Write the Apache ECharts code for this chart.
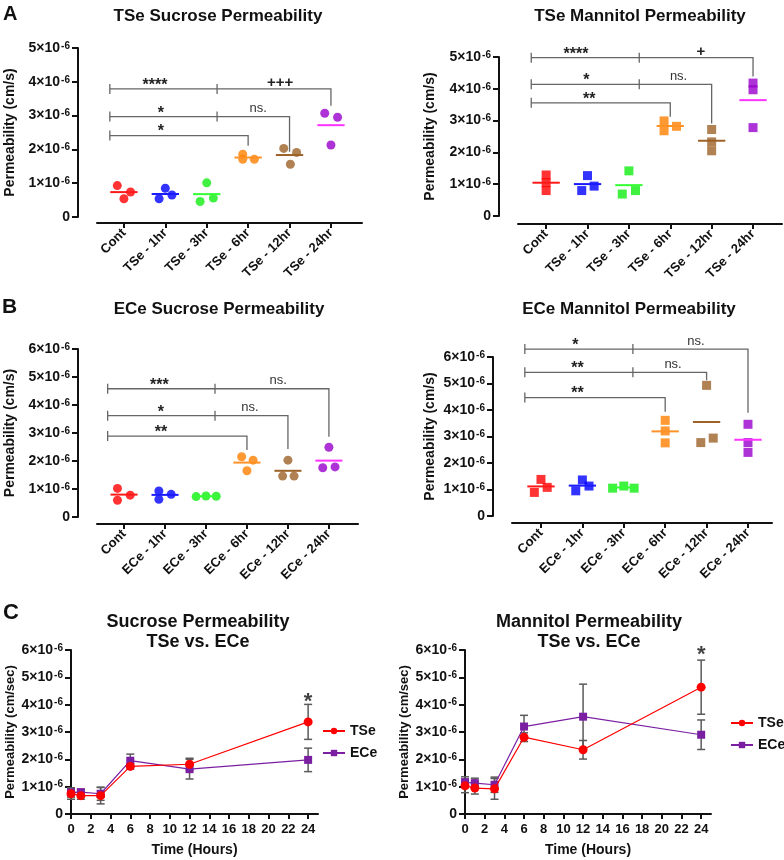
<!DOCTYPE html>
<html>
<head>
<meta charset="utf-8">
<title>Permeability</title>
<script src="https://cdn.jsdelivr.net/npm/echarts@6/dist/echarts.min.js"></script>
<style>
html,body{margin:0;padding:0;background:#fff;}
#main{width:784px;height:860px;}
</style>
</head>
<body>
<div id="main"></div>
<script>
// x axis groups
var tseNames = ['Cont','TSe - 1hr','TSe - 3hr','TSe - 6hr','TSe - 12hr','TSe - 24hr'];
var eceNames = ['Cont','ECe - 1hr','ECe - 3hr','ECe - 6hr','ECe - 12hr','ECe - 24hr'];
var groupIdx = [0,1,2,3,4,5];

// permeability in 1e-6 cm/s, 3 wells per group
var tseSucrose  = [[0.93,0.74,0.54],[0.85,0.54,0.65],[1.01,0.46,0.56],[1.86,1.71,1.71],[2.03,1.91,1.56],[3.07,2.95,2.13]];
var tseMannitol = [[1.29,1.05,0.80],[1.27,0.80,0.94],[1.42,0.69,0.80],[2.99,2.68,2.82],[2.72,2.33,2.05],[4.18,3.97,2.78]];
var eceSucrose  = [[1.02,0.78,0.60],[0.93,0.63,0.81],[0.73,0.75,0.74],[2.15,2.03,1.65],[2.03,1.46,1.46],[2.49,1.76,1.79]];
var eceMannitol = [[1.38,1.08,0.89],[1.36,1.13,0.95],[1.05,1.13,1.05],[3.61,3.21,2.76],[4.93,2.77,2.94],[3.46,2.77,2.40]];

// horizontal scatter of the dots inside a group
var tseSucroseJit  = [[-0.16,0.16,0],[0,-0.15,0.16],[0,-0.16,0.16],[-0.13,-0.13,0.15],[-0.14,0.17,0.02],[-0.15,0.16,0]];
var tseMannitolJit = [[0,0,0],[0,-0.14,0.16],[0,-0.16,0.16],[-0.15,-0.15,0.15],[0,0,0],[0,0,0]];
var eceSucroseJit  = [[-0.16,0.15,-0.16],[-0.15,-0.15,0.15],[-0.24,0,0.25],[-0.13,0.15,0],[0,-0.13,0.15],[0,-0.15,0.15]];
var eceMannitolJit = [[0,0.15,-0.16],[0,0.16,-0.16],[-0.27,0,0.25],[0,0,0],[0,-0.14,0.16],[0,0,0]];

// significance brackets: [x start, y, x middle cap, x end, y end of drop, x text1, x text2]
var tseSucroseBr  = [[-0.34,3.79,2.25,5,3.29,0.75,3.77],[-0.34,2.97,2.25,4,1.93,0.89,3.24],[-0.34,2.41,null,3,2.11,0.89,0]];
var tseSucroseTx  = [['****','+++'],['*','ns.'],['*','']];
var tseMannitolBr = [[-0.36,4.98,2.25,5,4.39,0.72,3.74],[-0.36,4.14,2.25,4,2.91,0.97,3.2],[-0.36,3.56,null,3,3.12,1.04,0]];
var tseMannitolTx = [['****','+'],['*','ns.'],['**','']];
var eceSucroseBr  = [[-0.4,4.58,2.22,5,2.87,0.86,3.76],[-0.4,3.62,2.22,4,2.43,0.9,3.07],[-0.4,2.89,null,3,2.39,0.9,0]];
var eceSucroseTx  = [['***','ns.'],['*','ns.'],['**','']];
var eceMannitolBr = [[-0.39,6.30,2.22,5,3.90,0.83,3.74],[-0.39,5.42,2.22,4,5.12,0.88,3.19],[-0.39,4.47,null,3,3.93,0.88,0]];
var eceMannitolTx = [['*','ns.'],['**','ns.'],['**','']];

// time course, mean and error (1e-6 cm/sec)
var hours = [0,1,3,6,12,24];
var hourTicks = [0,2,4,6,8,10,12,14,16,18,20,22,24];
var sucTSe = [0.74,0.67,0.67,1.74,1.82,3.37];
var sucTSeErr = [0.20,0.13,0.30,0.10,0.22,0.64];
var sucECe = [0.79,0.80,0.74,1.95,1.64,1.98];
var sucECeErr = [0.17,0.10,0.24,0.24,0.36,0.43];
var manTSe = [1.03,0.95,0.92,2.81,2.35,4.64];
var manTSeErr = [0.25,0.22,0.38,0.16,0.34,0.99];
var manECe = [1.16,1.13,1.07,3.20,3.56,2.90];
var manECeErr = [0.20,0.18,0.28,0.41,1.19,0.54];
var sucStar = [24,4.1];
var manStar = [24,5.82];

var dotColors  = ['#ff0000','#0000ff','#11ee11','#ff8000','#9c6228','#9900cc'];
var meanColors = ['#ff1a1a','#1a1aff','#33ff33','#ff9226','#9c6228','#ff33ff'];
var ink = '#111';

var grids = [
	{left:97, top:48, width:265, height:169},
	{left:518, top:57, width:264, height:159},
	{left:97, top:349, width:261, height:168},
	{left:512, top:357, width:260, height:159},
	{left:71, top:650, width:247, height:164},
	{left:465, top:650, width:246, height:164}
];

var supRich = {
	b:{fontSize:14, fontWeight:'bold', color:ink},
	s:{fontSize:10, fontWeight:'bold', color:ink, verticalAlign:'top', padding:[0,0,0,1]}
};
function sciLabel(v){
	if(v===0) return '{b|0}';
	return '{b|'+v+'×10}{s|-6}';
}

function yAx(gi, max, name, gap, off, nameSize){
	return {
		type:'value', gridIndex:gi, min:0, max:max, interval:1, offset:off,
		name:name, nameLocation:'middle', nameGap:gap,
		nameTextStyle:{fontSize:nameSize, fontWeight:'bold', color:ink},
		axisLine:{show:true, onZero:false, lineStyle:{color:ink, width:2}},
		axisTick:{show:true, length:6, lineStyle:{color:ink, width:2}},
		splitLine:{show:false},
		axisLabel:{margin:8, formatter:sciLabel, rich:supRich}
	};
}

function groupAx(gi, names, min, max, off){
	return {
		type:'value', gridIndex:gi, min:min, max:max, offset:off,
		axisLine:{show:true, onZero:false, lineStyle:{color:ink, width:2}},
		axisTick:{show:true, length:5, customValues:groupIdx, lineStyle:{color:ink, width:2}},
		axisLabel:{customValues:groupIdx, rotate:45, margin:8, fontSize:13, fontWeight:'bold', color:ink,
			formatter:function(v){ return names[Math.round(v)]; }},
		splitLine:{show:false}
	};
}

function hourAx(gi){
	return {
		type:'value', gridIndex:gi, min:0, max:25,
		name:'Time (Hours)', nameLocation:'middle', nameGap:29,
		nameTextStyle:{fontSize:14, fontWeight:'bold', color:ink},
		axisLine:{show:true, lineStyle:{color:ink, width:2}},
		axisTick:{show:true, length:5, customValues:hourTicks, lineStyle:{color:ink, width:2}},
		axisLabel:{customValues:hourTicks, margin:9, fontSize:13, fontWeight:'bold', color:ink},
		splitLine:{show:false}
	};
}

function dotSeries(gi, vals, jit, sym){
	var d = [];
	for(var i=0;i<vals.length;i++){
		for(var j=0;j<vals[i].length;j++){
			d.push({value:[i+jit[i][j], vals[i][j]], itemStyle:{color:dotColors[i]}});
		}
	}
	return {type:'scatter', xAxisIndex:gi, yAxisIndex:gi, symbol:sym, symbolSize:9, z:3, silent:true, data:d};
}

function meanSeries(gi, vals){
	var d = vals.map(function(v,i){ return [i, (v[0]+v[1]+v[2])/3]; });
	return {
		type:'custom', xAxisIndex:gi, yAxisIndex:gi, z:4, silent:true,
		renderItem:function(p, api){
			var a = api.coord([api.value(0)-0.33, api.value(1)]);
			var b = api.coord([api.value(0)+0.33, api.value(1)]);
			return {type:'line', shape:{x1:a[0], y1:a[1], x2:b[0], y2:b[1]},
				style:{stroke:meanColors[p.dataIndex], lineWidth:2}};
		},
		data:d
	};
}

function brText(txt, x, y){
	// glyphs sit at different heights, nudge them onto the bracket
	var dy = 3.5, fs = 16, col = '#222', fw = 'bold';
	if(txt.indexOf('ns')>=0){ dy = 8; fs = 13; col = '#333'; fw = 'normal'; }
	else if(txt.indexOf('+')>=0){ dy = 6; fs = 15; }
	return {type:'text', x:x, y:y-dy, style:{text:txt, fill:col, align:'center', verticalAlign:'middle',
		font:fw+' '+fs+'px "Liberation Sans", Arial, sans-serif'}};
}

function bracketSeries(gi, brs, txt){
	return {
		type:'custom', xAxisIndex:gi, yAxisIndex:gi, z:2, silent:true, clip:false,
		renderItem:function(p, api){
			var b = brs[p.dataIndex], t = txt[p.dataIndex];
			var st = {stroke:'#666', lineWidth:1.3, fill:null};
			var s = api.coord([b[0], b[1]]);
			var e = api.coord([b[3], b[1]]);
			var d = api.coord([b[3], b[4]]);
			var kids = [
				{type:'polyline', shape:{points:[s, e, d]}, style:st},
				{type:'line', shape:{x1:s[0], y1:s[1]-5, x2:s[0], y2:s[1]+5}, style:st}
			];
			if(b[2]!==null){
				var m = api.coord([b[2], b[1]]);
				kids.push({type:'line', shape:{x1:m[0], y1:m[1]-5, x2:m[0], y2:m[1]+5}, style:st});
			}
			kids.push(brText(t[0], api.coord([b[5], b[1]])[0], s[1]));
			if(t[1]) kids.push(brText(t[1], api.coord([b[6], b[1]])[0], s[1]));
			return {type:'group', children:kids};
		},
		data:brs.map(function(b){ return [b[0], b[1]]; })
	};
}

function errSeries(gi, xs, means, errs){
	return {
		type:'custom', xAxisIndex:gi, yAxisIndex:gi, z:1, silent:true,
		renderItem:function(p, api){
			var x = api.value(0), m = api.value(1), e = api.value(2);
			var hi = api.coord([x, m+e]), lo = api.coord([x, m-e]);
			var st = {stroke:'#5a5a5a', lineWidth:1.5};
			return {type:'group', children:[
				{type:'line', shape:{x1:hi[0], y1:hi[1], x2:lo[0], y2:lo[1]}, style:st},
				{type:'line', shape:{x1:hi[0]-4, y1:hi[1], x2:hi[0]+4, y2:hi[1]}, style:st},
				{type:'line', shape:{x1:lo[0]-4, y1:lo[1], x2:lo[0]+4, y2:lo[1]}, style:st}
			]};
		},
		data:xs.map(function(x,i){ return [x, means[i], errs[i]]; })
	};
}

function pairs(xs, ys){
	return xs.map(function(x,i){ return [x, ys[i]]; });
}

function lineSeries(gi, name, ys, sym, size, color, z){
	return {type:'line', name:name, xAxisIndex:gi, yAxisIndex:gi, data:pairs(hours, ys),
		symbol:sym, symbolSize:size, z:z, itemStyle:{color:color}, lineStyle:{color:color, width:1.2}};
}

function starSeries(gi, pt){
	return {type:'scatter', xAxisIndex:gi, yAxisIndex:gi, symbolSize:1, silent:true, z:5,
		itemStyle:{color:'rgba(0,0,0,0)'},
		label:{show:true, position:'inside', formatter:'*', fontSize:22, fontWeight:'bold', color:ink},
		data:[pt]};
}

function titleAt(text, x, y, size, lh){
	return {text:text, left:x, top:y, textAlign:'center', padding:0,
		textStyle:{fontSize:size, fontWeight:'bold', color:ink, lineHeight:lh}};
}

var myChart = echarts.init(document.getElementById('main'), null, {renderer:'canvas'});
var option = {
	animation:false,
	backgroundColor:'#fff',
	textStyle:{fontFamily:'"Liberation Sans", Arial, sans-serif'},
	title:[
		titleAt('TSe Sucrose Permeability', 218, 6, 17, 20),
		titleAt('TSe Mannitol Permeability', 640, 6, 17, 20),
		titleAt('ECe Sucrose Permeability', 219, 299, 17, 20),
		titleAt('ECe Mannitol Permeability', 629, 299, 17, 20),
		titleAt('Sucrose Permeability\nTSe vs. ECe', 198, 612, 18, 20),
		titleAt('Mannitol Permeability\nTSe vs. ECe', 589, 612, 18, 20),
		{text:'A', left:3, top:4, padding:0, textStyle:{fontSize:20, fontWeight:'bold', color:ink}},
		{text:'B', left:2, top:297, padding:0, textStyle:{fontSize:21, fontWeight:'bold', color:ink}},
		{text:'C', left:3, top:602, padding:0, textStyle:{fontSize:22, fontWeight:'bold', color:ink}}
	],
	legend:[
		{data:['TSe','ECe'], orient:'vertical', left:322, top:724, padding:0, itemGap:8, itemWidth:22, itemHeight:8,
			selectedMode:false, textStyle:{fontSize:14, fontWeight:'bold', color:ink}},
		{data:['TSe','ECe'], orient:'vertical', left:730, top:716, padding:0, itemGap:8, itemWidth:22, itemHeight:8,
			selectedMode:false, textStyle:{fontSize:14, fontWeight:'bold', color:ink}}
	],
	grid:grids,
	xAxis:[
		groupAx(0, tseNames, -0.65, 5.75, 6),
		groupAx(1, tseNames, -0.68, 5.70, 8),
		groupAx(2, eceNames, -0.66, 5.71, 7),
		groupAx(3, eceNames, -0.70, 5.58, 7),
		hourAx(4),
		hourAx(5)
	],
	yAxis:[
		yAx(0, 5, 'Permeability (cm/s)', 61, 19, 14),
		yAx(1, 5, 'Permeability (cm/s)', 62, 19, 14),
		yAx(2, 6, 'Permeability (cm/s)', 61, 19, 14),
		yAx(3, 6, 'Permeability (cm/s)', 56, 19, 14),
		yAx(4, 6, 'Permeability (cm/sec)', 54, 0, 13),
		yAx(5, 6, 'Permeability (cm/sec)', 54, 0, 13)
	],
	series:[
		bracketSeries(0, tseSucroseBr, tseSucroseTx),
		dotSeries(0, tseSucrose, tseSucroseJit, 'circle'),
		meanSeries(0, tseSucrose),
		bracketSeries(1, tseMannitolBr, tseMannitolTx),
		dotSeries(1, tseMannitol, tseMannitolJit, 'rect'),
		meanSeries(1, tseMannitol),
		bracketSeries(2, eceSucroseBr, eceSucroseTx),
		dotSeries(2, eceSucrose, eceSucroseJit, 'circle'),
		meanSeries(2, eceSucrose),
		bracketSeries(3, eceMannitolBr, eceMannitolTx),
		dotSeries(3, eceMannitol, eceMannitolJit, 'rect'),
		meanSeries(3, eceMannitol),

		errSeries(4, hours, sucECe, sucECeErr),
		errSeries(4, hours, sucTSe, sucTSeErr),
		lineSeries(4, 'ECe', sucECe, 'rect', 8, '#7b1fa2', 2),
		lineSeries(4, 'TSe', sucTSe, 'circle', 9, '#ff0000', 3),
		starSeries(4, sucStar),

		errSeries(5, hours, manECe, manECeErr),
		errSeries(5, hours, manTSe, manTSeErr),
		lineSeries(5, 'ECe', manECe, 'rect', 8, '#7b1fa2', 2),
		lineSeries(5, 'TSe', manTSe, 'circle', 9, '#ff0000', 3),
		starSeries(5, manStar)
	]
};
myChart.setOption(option);
</script>
</body>
</html>
